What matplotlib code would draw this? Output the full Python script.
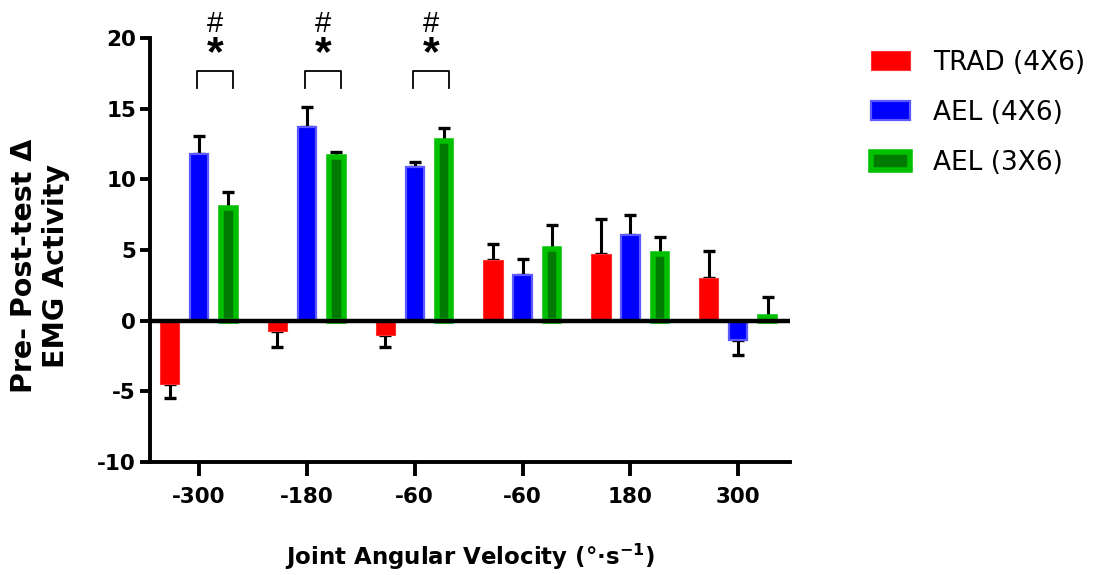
import matplotlib
matplotlib.use("Agg")
import matplotlib.pyplot as plt
import numpy as np

# ---- data ----
categories = ["-300", "-180", "-60", "-60", "180", "300"]
series_names = ["TRAD (4X6)", "AEL (4X6)", "AEL (3X6)"]
trad_vals = [-4.45, -0.7, -1.0, 4.3, 4.75, 3.0]
trad_err = [1.05, 1.15, 0.85, 1.1, 2.45, 1.9]
ael4_vals = [11.8, 13.7, 10.85, 3.25, 6.05, -1.35]
ael4_err = [1.3, 1.4, 0.4, 1.1, 1.45, 1.05]
ael3_vals = [8.0, 11.6, 12.7, 5.1, 4.7, 0.25]
ael3_err = [1.1, 0.3, 0.9, 1.7, 1.2, 1.4]
sig_groups = [0, 1, 2]   # groups with * and # annotations
y_ticks = [-10, -5, 0, 5, 10, 15, 20]

plt.rcParams['font.family'] = ['DejaVu Sans']
plt.rcParams['axes.unicode_minus'] = False

fig = plt.figure(figsize=(10.97, 5.75), dpi=100)
ax = fig.add_axes([0.1367, 0.1965, 0.5834, 0.7374])

x = np.arange(len(categories))
off = 0.273

def errs(vals, e):
    lo = [ei if v < 0 else 0 for v, ei in zip(vals, e)]
    hi = [ei if v >= 0 else 0 for v, ei in zip(vals, e)]
    return [lo, hi]

ekw = dict(ecolor='black', elinewidth=2.2, capsize=4.2, capthick=2.4, zorder=2)

b1 = ax.bar(x - off, trad_vals, width=0.18, color='#ff0000', edgecolor='#ff3030',
            linewidth=0.8, zorder=3, label=series_names[0])
ax.errorbar(x - off, trad_vals, yerr=errs(trad_vals, trad_err), fmt='none', **ekw)
b2 = ax.bar(x, ael4_vals, width=0.17, color='#0000ff', edgecolor='#5a5aff',
            linewidth=1.6, zorder=3, label=series_names[1])
ax.errorbar(x, ael4_vals, yerr=errs(ael4_vals, ael4_err), fmt='none', **ekw)
b3 = ax.bar(x + off, ael3_vals, width=0.135, color='#007a00', edgecolor='#00c000',
            linewidth=4.0, zorder=3, label=series_names[2])
ax.errorbar(x + off, ael3_vals, yerr=errs(ael3_vals, ael3_err), fmt='none', **ekw)

ax.axhline(0, color='black', lw=3.2, zorder=4)

ax.set_xlim(-0.455, 5.48)
ax.set_ylim(-10, 20)
ax.set_yticks(y_ticks)
ax.set_xticks(x)
ax.set_xticklabels(categories)

for s in ['top', 'right']:
    ax.spines[s].set_visible(False)
for s in ['left', 'bottom']:
    ax.spines[s].set_linewidth(2.8)
ax.tick_params(axis='y', length=7, width=2.8, labelsize=15.5, pad=3)
ax.tick_params(axis='x', length=10, width=2.8, labelsize=15.5, pad=8)
for lab in ax.get_xticklabels() + ax.get_yticklabels():
    lab.set_fontweight('bold')

fig.text(40 / 1097, 1 - 266 / 575, "Pre- Post-test Δ\nEMG Activity", rotation=90,
         ha='center', va='center', multialignment='center', fontsize=20.5,
         fontweight='bold', linespacing=1.2)
ax.set_xlabel("Joint Angular Velocity (°·s$^{\\mathbf{-1}}$)", fontsize=16.5,
              fontweight='bold', labelpad=25)

# significance annotations
for g in sig_groups:
    x0, x1 = g - 0.015, g + 0.315
    ax.plot([x0, x0, x1, x1], [16.45, 17.65, 17.65, 16.45], color='black', lw=1.3,
            clip_on=False, zorder=5)
    xm = (x0 + x1) / 2
    ax.text(xm, 18.1, "*", ha='center', va='baseline', fontsize=31,
            fontweight='bold', family='Liberation Sans', clip_on=False)
    ax.text(xm, 20.4, "#", ha='center', va='baseline', fontsize=21,
            family='Liberation Sans', clip_on=False)

fig.legend(handles=[b1, b2, b3], labels=series_names, loc='upper left',
           bbox_to_anchor=(0.7725, 0.955), frameon=False, fontsize=19,
           handlelength=1.48, handleheight=0.7, handletextpad=0.85,
           labelspacing=0.92)

fig.savefig("out.png", dpi=100)
